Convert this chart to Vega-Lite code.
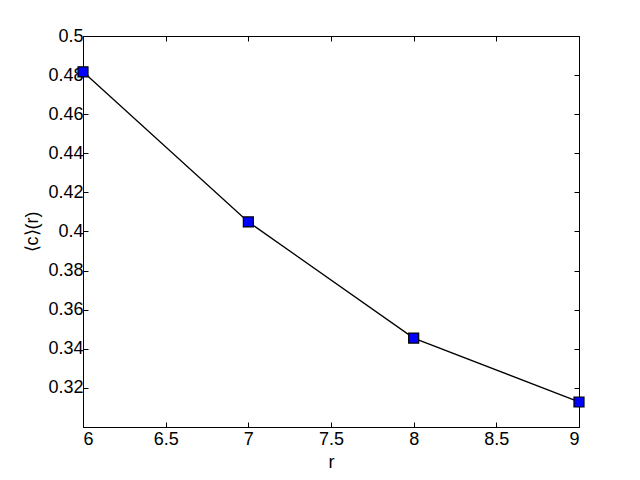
{
  "$schema": "https://vega.github.io/schema/vega-lite/v6.json",
  "autosize": "none",
  "width": 496,
  "height": 391,
  "padding": {"left": 83, "top": 36, "right": 61, "bottom": 53},
  "background": "white",
  "config": {
    "view": {"stroke": "black", "strokeWidth": 1},
    "font": "Liberation Sans",
    "axis": {
      "domainColor": "black",
      "tickColor": "black",
      "labelColor": "black",
      "titleColor": "black",
      "labelFont": "Liberation Sans",
      "titleFont": "Liberation Sans",
      "labelFontSize": 18,
      "titleFontSize": 18,
      "titleFontWeight": "normal",
      "grid": false,
      "tickSize": -5,
      "labelPadding": 5
    }
  },
  "data": {
    "values": [
      {"r": 6, "c": 0.4817},
      {"r": 7, "c": 0.4049},
      {"r": 8, "c": 0.3455},
      {"r": 9, "c": 0.3128}
    ]
  },
  "layer": [
    {
      "mark": {"type": "line", "color": "black", "strokeWidth": 1.3},
      "encoding": {
        "x": {
          "field": "r", "type": "quantitative",
          "scale": {"domain": [6, 9], "nice": false, "zero": false},
          "axis": {"values": [6, 6.5, 7, 7.5, 8, 8.5, 9], "format": "~g", "title": "r", "titlePadding": 5, "labelPadding": 8}
        },
        "y": {
          "field": "c", "type": "quantitative",
          "scale": {"domain": [0.3, 0.5], "nice": false, "zero": false},
          "axis": {"values": [0.32, 0.34, 0.36, 0.38, 0.4, 0.42, 0.44, 0.46, 0.48, 0.5], "format": "~g", "title": "⟨c⟩(r)", "titlePadding": 6}
        }
      }
    },
    {
      "mark": {"type": "square", "size": 100, "fill": "#0000ff", "stroke": "black", "strokeWidth": 1.2, "opacity": 1, "filled": true},
      "encoding": {
        "x": {"field": "r", "type": "quantitative", "axis": {"orient": "top", "labels": false, "title": null, "values": [6, 6.5, 7, 7.5, 8, 8.5, 9], "domain": false}},
        "y": {"field": "c", "type": "quantitative", "axis": {"orient": "right", "labels": false, "title": null, "values": [0.32, 0.34, 0.36, 0.38, 0.4, 0.42, 0.44, 0.46, 0.48, 0.5], "domain": false}}
      }
    }
  ],
  "resolve": {"axis": {"x": "independent", "y": "independent"}}
}
